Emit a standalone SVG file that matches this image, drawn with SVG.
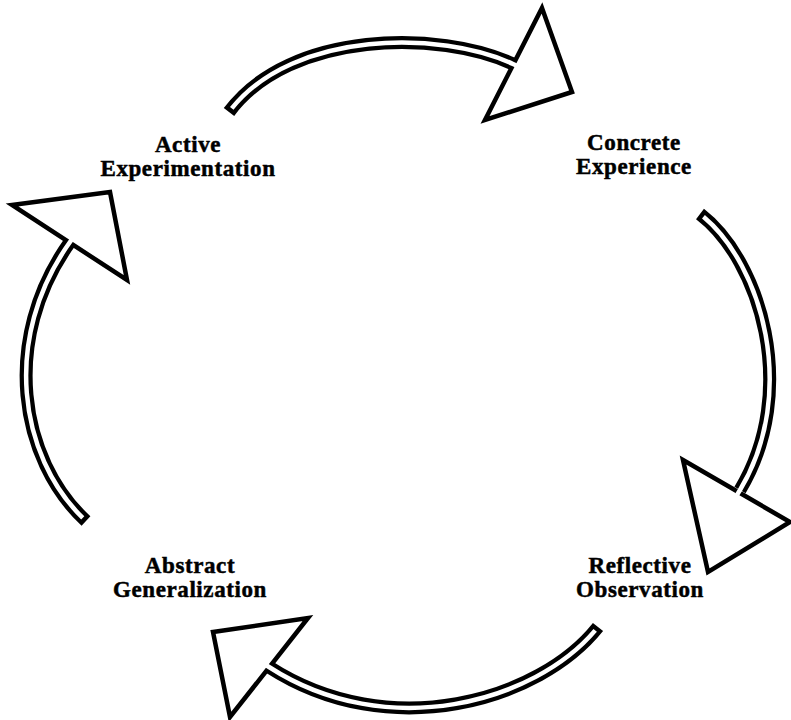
<svg xmlns="http://www.w3.org/2000/svg" width="791" height="720" viewBox="0 0 791 720">
<style>
.head{fill:#fff;stroke:#000;stroke-width:4.5;stroke-linejoin:miter}
.outer{fill:none;stroke:#000;stroke-width:13;stroke-linecap:butt}
.inner{fill:none;stroke:#fff;stroke-width:4.5;stroke-linecap:butt;stroke-dasharray:0 4.5 3000}
.lbl{font-family:"Liberation Serif","Times New Roman",serif;font-weight:bold;font-size:23px;letter-spacing:0.6px;text-anchor:middle;fill:#000;stroke:#000;stroke-width:0.5px}
</style>
<rect width="791" height="720" fill="#fff"/>
<g id="connectors">
  <g id="arrow-top">
    <polygon class="head" points="542,8 572,92 485,120"/>
    <path class="outer" d="M229,112 C290,30 440,30 513,64"/>
    <path class="inner" d="M229,112 C290,30 440,30 513,64 l5,2.3"/>
  </g>
  <g id="arrow-right">
    <polygon class="head" points="683,460 790,522 708,572"/>
    <path class="outer" d="M700,214 C760,260 800,390 740,490"/>
    <path class="inner" d="M700,214 C760,260 800,390 740,490 l-2.8,4.6"/>
  </g>
  <g id="arrow-bottom">
    <polygon class="head" points="213,632 308,618 230,717"/>
    <path class="outer" d="M598,627 C540,700 390,745 269,667"/>
    <path class="inner" d="M598,627 C540,700 390,745 269,667 l-4.6,-3"/>
  </g>
  <g id="arrow-left">
    <polygon class="head" points="12,205 110,192 127,280"/>
    <path class="outer" d="M86,521 C20,460 0,340 70,242"/>
    <path class="inner" d="M86,521 C20,460 0,340 70,242 l3,-4.3"/>
  </g>
</g>
<g id="active-experimentation">
  <text class="lbl" x="188" y="152">Active</text>
  <text class="lbl" x="188" y="176">Experimentation</text>
</g>
<g id="concrete-experience">
  <text class="lbl" x="634" y="150">Concrete</text>
  <text class="lbl" x="634" y="174">Experience</text>
</g>
<g id="reflective-observation">
  <text class="lbl" x="640" y="573">Reflective</text>
  <text class="lbl" x="640" y="597">Observation</text>
</g>
<g id="abstract-generalization">
  <text class="lbl" x="190" y="573">Abstract</text>
  <text class="lbl" x="190" y="597">Generalization</text>
</g>
</svg>
